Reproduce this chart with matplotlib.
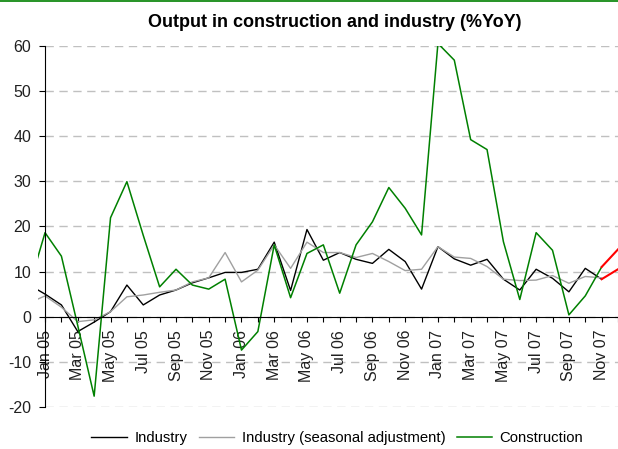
import matplotlib.pyplot as plt
from matplotlib.lines import Line2D

plt.rcParams['font.family'] = ['Liberation Sans', 'DejaVu Sans']

# months from Dec 04 to Nov 07
months = ["Dec 04",
          "Jan 05", "Feb 05", "Mar 05", "Apr 05", "May 05", "Jun 05", "Jul 05", "Aug 05", "Sep 05", "Oct 05", "Nov 05", "Dec 05",
          "Jan 06", "Feb 06", "Mar 06", "Apr 06", "May 06", "Jun 06", "Jul 06", "Aug 06", "Sep 06", "Oct 06", "Nov 06", "Dec 06",
          "Jan 07", "Feb 07", "Mar 07", "Apr 07", "May 07", "Jun 07", "Jul 07", "Aug 07", "Sep 07", "Oct 07", "Nov 07"]

industry = [7.1,
            5.0, 2.6, -3.3, -1.2, 1.1, 7.0, 2.6, 4.8, 5.9, 7.5, 8.6, 9.8,
            9.8, 10.5, 16.5, 5.8, 19.3, 12.5, 14.2, 12.7, 11.8, 14.9, 12.2, 6.1,
            15.5, 12.8, 11.4, 12.7, 8.3, 5.9, 10.5, 8.5, 5.5, 10.7, 8.3]

industry_sa = [3.0,
               4.6, 2.1, -1.1, -0.7, 1.1, 4.4, 4.8, 5.4, 5.9, 7.7, 8.6, 14.2,
               7.7, 10.3, 15.9, 10.7, 16.5, 14.2, 14.2, 13.1, 14.0, 12.2, 10.2, 10.5,
               15.5, 13.2, 12.9, 11.1, 8.3, 8.0, 8.1, 9.1, 7.4, 8.9, 8.6]

construction = [6.3,
                18.6, 13.4, -2.0, -17.6, 21.9, 29.9, 18.0, 6.6, 10.5, 7.0, 6.1, 8.3,
                -7.4, -3.3, 15.9, 4.2, 14.0, 15.9, 5.2, 15.9, 21.0, 28.6, 24.0, 18.1,
                60.5, 56.8, 39.2, 37.0, 16.6, 3.8, 18.6, 14.7, 0.4, 4.6, 11.0]

# latest month (Dec 07), drawn in red
last_month = "Dec 07"
industry_last = 10.5
construction_last = 14.9

yticks = [-20, -10, 0, 10, 20, 30, 40, 50, 60]

x = [i - 1 for i in range(len(months))]
n_last = len(months) - 1

fig = plt.figure(figsize=(6.18, 4.49), dpi=100)
ax = fig.add_axes([38 / 618, 42 / 449, 1 - 38 / 618, (407 - 45.7) / 449])

ax.hlines(yticks, 0, n_last, colors='#c0c0c0', linestyles=(0, (6, 4)), linewidth=1.0, zorder=0)

ax.plot(x, industry, color='black', lw=1.0, label='Industry')
ax.plot(x, industry_sa, color='#a0a0a0', lw=1.0, label='Industry (seasonal adjustment)')
ax.plot(x, construction, color='#008000', lw=1.1, label='Construction')
ax.plot([x[-1], n_last], [industry[-1], industry_last], color='red', lw=1.5)
ax.plot([x[-1], n_last], [construction[-1], construction_last], color='red', lw=1.5)

ax.set_xlim(-0.43, n_last)
ax.set_ylim(-20, 60)

ax.spines['top'].set_visible(False)
ax.spines['right'].set_visible(False)
ax.spines['left'].set_position(('data', 0))
ax.spines['bottom'].set_position(('data', 0))
ax.spines['bottom'].set_bounds(0, n_last)

ax.set_yticks(yticks)
ax.set_yticklabels([str(v) for v in yticks], fontsize=11.5, color='#202020')
ax.tick_params(axis='y', direction='out', length=4, width=0.8, pad=6)

all_months = months[1:] + [last_month]
ax.set_xticks(range(len(all_months)))
ax.set_xticklabels([m if i % 2 == 0 else '' for i, m in enumerate(all_months)],
                   rotation=90, fontsize=11.5, color='#202020')
ax.tick_params(axis='x', direction='out', length=3.5, width=0.8, pad=6)

fig.text(0.542, 0.949, 'Output in construction and industry (%YoY)',
         ha='center', va='center', fontsize=13, fontweight='bold')

fig.legend(loc='center', bbox_to_anchor=(0.546, 0.0245), ncol=3, frameon=False,
           fontsize=10.7, handlelength=2.4, handletextpad=0.5, columnspacing=0.75)

fig.add_artist(Line2D([0, 1], [0.998, 0.998], transform=fig.transFigure, color='#008000', lw=1.2))

fig.savefig('out.png', dpi=100)
